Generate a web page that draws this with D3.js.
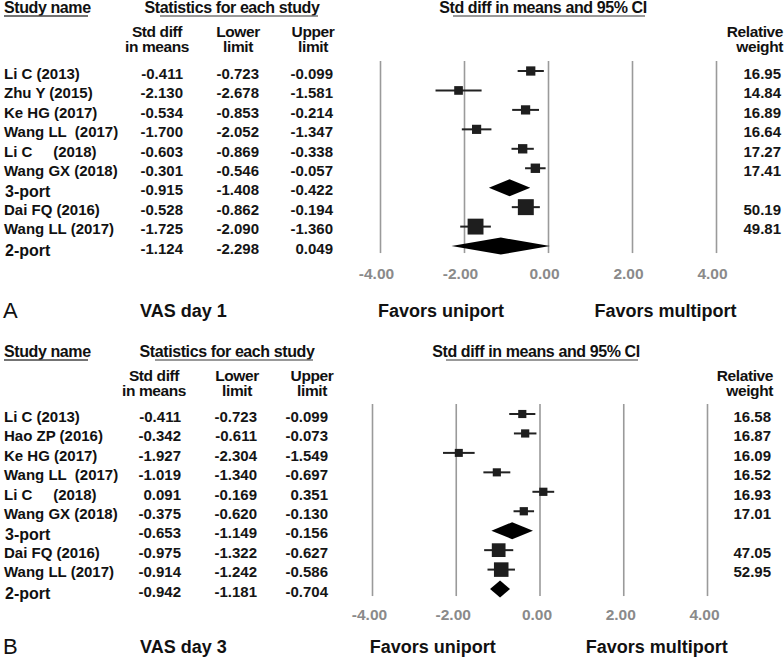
<!DOCTYPE html>
<html><head><meta charset="utf-8">
<script src="https://cdn.jsdelivr.net/npm/d3@7"></script>
<style>
body{margin:0;background:#fff;}
svg{display:block;}
text{font-family:"Liberation Sans",Arial,sans-serif;}
</style></head>
<body>
<svg id="chart" width="784" height="661"></svg>
<script>
// ---- Data ----
const studiesA = ["Li C (2013)","Zhu Y (2015)","Ke HG (2017)","Wang LL  (2017)","Li C     (2018)","Wang GX (2018)","3-port","Dai FQ (2016)","Wang LL (2017)","2-port"];
const smdA   = [-0.411,-2.130,-0.534,-1.700,-0.603,-0.301,-0.915,-0.528,-1.725,-1.124];
const lowerA = [-0.723,-2.678,-0.853,-2.052,-0.869,-0.546,-1.408,-0.862,-2.090,-2.298];
const upperA = [-0.099,-1.581,-0.214,-1.347,-0.338,-0.057,-0.422,-0.194,-1.360,0.049];
const weightA = [16.95,14.84,16.89,16.64,17.27,17.41,null,50.19,49.81,null];

const studiesB = ["Li C (2013)","Hao ZP (2016)","Ke HG (2017)","Wang LL  (2017)","Li C     (2018)","Wang GX (2018)","3-port","Dai FQ (2016)","Wang LL (2017)","2-port"];
const smdB   = [-0.411,-0.342,-1.927,-1.019,0.091,-0.375,-0.653,-0.975,-0.914,-0.942];
const lowerB = [-0.723,-0.611,-2.304,-1.340,-0.169,-0.620,-1.149,-1.322,-1.242,-1.181];
const upperB = [-0.099,-0.073,-1.549,-0.697,0.351,-0.130,-0.156,-0.627,-0.586,-0.704];
const weightB = [16.58,16.87,16.09,16.52,16.93,17.01,null,47.05,52.95,null];

const tickValues = [-4,-2,0,2,4];
const panelLetters = ["A","B"];
const panelTitles = ["VAS day 1","VAS day 3"];

// ---- Drawing ----
const svg = d3.select("#chart");
const loc = d3.formatLocale({decimal:".", thousands:",", grouping:[3], currency:["",""], minus:"-"});
const fmt3 = loc.format(".3f");
const fmtTick = loc.format(".2f");

const panels = [
  {names:studiesA, smd:smdA, lo:lowerA, hi:upperA, w:weightA, letter:panelLetters[0], title:panelTitles[0],
   oy:0, xr:[380,716], k:2.25, cols:[183,259,333], hdr:[157,238,313], stats:232, ci:543, wRight:781, row0:71, step:19.45, fy:311, ty:21, tdx:-4},
  {names:studiesB, smd:smdB, lo:lowerB, hi:upperB, w:weightB, letter:panelLetters[1], title:panelTitles[1],
   oy:344, xr:[372,707], k:2.0, cols:[181,257,328], hdr:[154,237,312], stats:227, ci:536, wRight:771, row0:70, step:19.45, fy:303, ty:19, tdx:-3}
];

panels.forEach(p => {
  const g = svg.append("g").attr("transform", `translate(0,${p.oy})`);
  const x = d3.scaleLinear().domain([-4,4]).range(p.xr);
  const y = d3.scaleLinear().domain([0, p.names.length-1]).range([p.row0, p.row0 + p.step*(p.names.length-1)]);
  const gridTop = y(0) - 10, gridBot = y(p.names.length-1) + 7;

  // headers
  const hdr = (t, xx, yy, anchor, fs) => g.append("text").attr("x", xx).attr("y", yy).attr("text-anchor", anchor||"middle")
      .attr("dy","0.35em").attr("font-size",fs||16).attr("font-weight","bold").attr("fill","#111").attr("letter-spacing","-0.4").text(t);
  hdr("Study name", 4, 7, "start");
  g.append("line").attr("x1",4).attr("x2",88).attr("y1",16).attr("y2",16).attr("stroke","#444").attr("stroke-width",1.3);
  hdr("Statistics for each study", p.stats, 7);
  g.append("line").attr("x1",p.stats-72).attr("x2",p.stats+86).attr("y1",16).attr("y2",16).attr("stroke","#777").attr("stroke-width",1.3);
  hdr("Std diff in means and 95% CI", p.ci, 7);
  g.append("line").attr("x1",p.ci-90).attr("x2",p.ci+102).attr("y1",16).attr("y2",16).attr("stroke","#777").attr("stroke-width",1.3);
  const fs2 = 15.5;
  hdr("Std diff", p.hdr[0], 31.5, null, fs2); hdr("in means", p.hdr[0], 47, null, fs2);
  hdr("Lower", p.hdr[1], 31.5, null, fs2); hdr("limit", p.hdr[1], 47, null, fs2);
  hdr("Upper", p.hdr[2], 31.5, null, fs2); hdr("limit", p.hdr[2], 47, null, fs2);
  hdr("Relative", p.wRight+2, 31.5, "end", fs2); hdr("weight", p.wRight+2, 47, "end", fs2);

  // grid lines via axis ticks
  const axis = d3.axisBottom(x).tickValues(tickValues).tickFormat(fmtTick).tickSize(gridBot-gridTop).tickPadding(p.ty-6);
  const ax = g.append("g").attr("transform", `translate(0,${gridTop})`).call(axis);
  ax.select(".domain").remove();
  ax.selectAll(".tick line").attr("stroke","#9a9a9a").attr("stroke-width",1.6);
  ax.selectAll(".tick text").attr("fill","#8a8a8a").attr("font-size",15.5).attr("font-weight","bold").attr("dx", p.tdx)
    .attr("font-family","'Liberation Sans',Arial,sans-serif");

  // table rows
  const rows = p.names.map((n,i)=>({name:n, smd:p.smd[i], lo:p.lo[i], hi:p.hi[i], w:p.w[i], i}));
  rows.forEach(r => {
    const yy = y(r.i) + 2.5;
    const sub = r.w === null;
    g.append("text").attr("x", sub ? 5 : 4).attr("y", yy + (sub ? 1.5 : 0)).attr("dy","0.35em")
      .attr("font-size", sub ? 16 : 15).attr("font-weight","bold").attr("fill","#111")
      .attr("font-family", sub ? "Lato,'Open Sans',sans-serif" : null)
      .attr("xml:space","preserve").style("white-space","pre").text(r.name);
    [r.smd, r.lo, r.hi].forEach((v,j) => {
      g.append("text").attr("x", p.cols[j]).attr("y", yy).attr("dy","0.35em").attr("text-anchor","end")
        .attr("font-size",15).attr("font-weight","bold").attr("fill","#151515").text(fmt3(v));
    });
    if (!sub) {
      g.append("text").attr("x", p.wRight).attr("y", yy).attr("dy","0.35em").attr("text-anchor","end")
        .attr("font-size",15).attr("font-weight","bold").attr("fill","#151515").text(r.w.toFixed(2));
    }
  });

  // forest marks
  rows.forEach(r => {
    const yc = y(r.i);
    if (r.w !== null) {
      g.append("line").attr("x1", x(r.lo)).attr("x2", x(r.hi)).attr("y1", yc).attr("y2", yc)
        .attr("stroke","#222").attr("stroke-width",2);
      const s = p.k * Math.sqrt(r.w);
      g.append("rect").attr("x", x(r.smd)-s/2).attr("y", yc-s/2).attr("width", s).attr("height", s).attr("fill","#1e1e1e");
    } else {
      const h = 8.5;
      g.append("path").attr("d", `M${x(r.lo)},${yc} L${x(r.smd)},${yc-h} L${x(r.hi)},${yc} L${x(r.smd)},${yc+h} Z`).attr("fill","#000");
    }
  });

  // footer labels
  const fy = p.fy;
  const cal = "Lato,'Open Sans',sans-serif";
  g.append("text").attr("x", 3).attr("y", fy - 1).attr("dy","0.35em").attr("font-size",22).attr("font-family",cal).attr("fill","#111").text(p.letter);
  g.append("text").attr("x", 140).attr("y", fy).attr("dy","0.35em").attr("font-size",18).attr("font-weight","bold").attr("font-family",cal).attr("fill","#111").text(p.title);
  g.append("text").attr("x", x(-2.55)).attr("y", fy).attr("dy","0.35em").attr("text-anchor","middle").attr("font-size",18).attr("font-weight","bold").attr("font-family",cal).attr("fill","#111").text("Favors uniport");
  g.append("text").attr("x", x(2.8)).attr("y", fy).attr("dy","0.35em").attr("text-anchor","middle").attr("font-size",18).attr("font-weight","bold").attr("font-family",cal).attr("fill","#111").text("Favors multiport");
});
</script>
</body></html>
